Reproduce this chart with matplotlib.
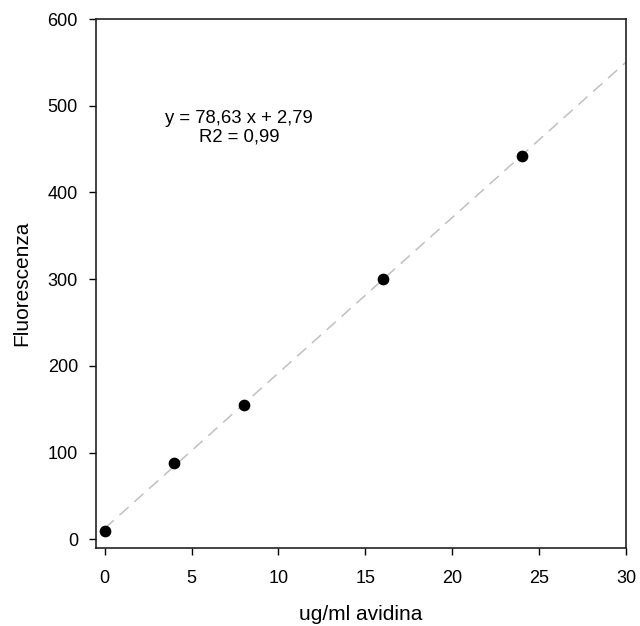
import numpy as np
import matplotlib.pyplot as plt

plt.rcParams['font.family'] = ['Liberation Sans', 'DejaVu Sans']

# concentrazione avidina (ug/ml) e fluorescenza misurata
conc = [0, 4, 8, 16, 24]
fluo = [10, 88, 155, 300, 442]

x_ticks = [0, 5, 10, 15, 20, 25, 30]
y_ticks = [0, 100, 200, 300, 400, 500, 600]

fig = plt.figure(figsize=(6.4, 6.26), dpi=100)
ax = fig.add_axes([0.15, 0.1246, 0.828, 0.845])

# retta di regressione
slope, intercept = np.polyfit(conc, fluo, 1)
xl = np.array([0, 30])
ax.plot(xl, slope * xl + intercept, color='#c0c0c0', lw=1.1,
        dashes=(8, 5), zorder=1)

ax.scatter(conc, fluo, s=55, color='black', zorder=3)

ax.set_xlim(-0.5, 30)
ax.set_ylim(-10, 600)
ax.set_xticks(x_ticks)
ax.set_yticks(y_ticks)
ax.tick_params(labelsize=13, length=5, width=1, direction='out', pad=8)
ax.tick_params(axis='x', pad=11)
for s in ax.spines.values():
    s.set_linewidth(1.2)
    s.set_color('#222222')

ax.set_xlabel('ug/ml avidina', fontsize=15, labelpad=13)
ax.set_ylabel('Fluorescenza', fontsize=15, labelpad=12)

ax.text(0.27, 0.795, 'y = 78,63 x + 2,79\nR2 = 0,99', transform=ax.transAxes,
        ha='center', va='center', fontsize=13.3, linespacing=1.1)

plt.savefig('out.png', dpi=100)
